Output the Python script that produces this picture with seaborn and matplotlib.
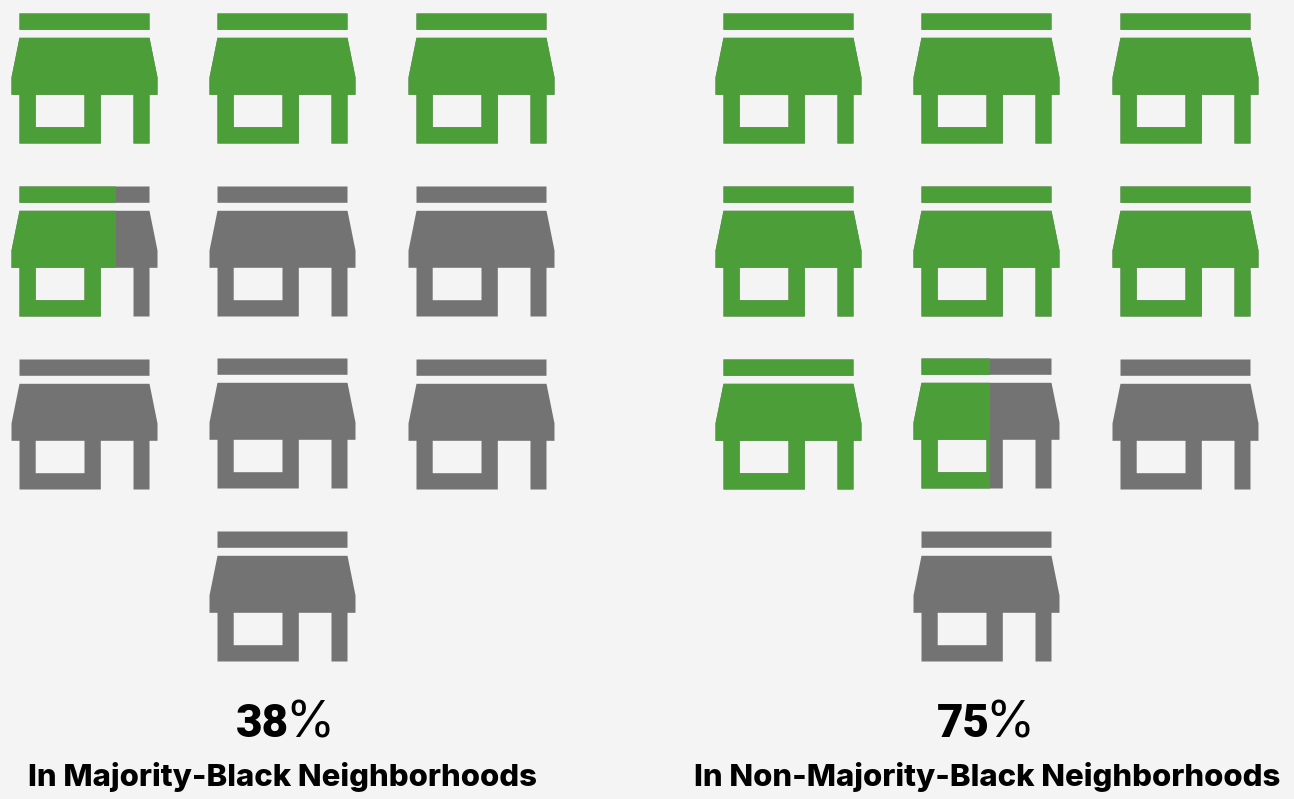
import matplotlib
matplotlib.use("Agg")
import matplotlib.pyplot as plt
import pandas as pd
import seaborn as sns
from matplotlib.markers import MarkerStyle
from matplotlib.patches import Rectangle
from matplotlib.path import Path

# columns / rows of the icon grid, one list per group (pixel scale of the picture)
left_x = [84, 282, 480.5, 84, 282, 481, 84, 282, 481, 282]
right_x = [788, 986, 1184.5, 788, 986, 1185, 788, 986, 1185, 986]
icon_y = [77.5, 77.5, 77.5, 250.5, 250.5, 250.5, 423.5, 422.5, 423.5, 595.5]

# how much of every store is green
left_fill = [1, 1, 1, 0.71, 0, 0, 0, 0, 0, 0]
right_fill = [1, 1, 1, 1, 1, 1, 1, 0.52, 0, 0]

percents = ["38", "75"]
labels = ["In Majority-Black Neighborhoods", "In Non-Majority-Black Neighborhoods"]
label_x = [283, 987]
split_x = [289, 989.5]

GREEN = "#4C9F38"
GREY = "#737373"
BG = "#F4F4F4"
ICON_W = 146

sns.set_theme(style="white", rc={"figure.facecolor": BG, "axes.facecolor": BG})
plt.rcParams["font.family"] = ["Inter", "DejaVu Sans"]

df = pd.DataFrame({
    "x": left_x + right_x,
    "y": icon_y + icon_y,
    "fill": left_fill + right_fill,
})


def store_marker():
    # y goes up here, icon centre is 0,0
    # holes run the other way round so they stay empty
    parts = [
        [(-65, 65), (65, 65), (65, 48.7), (-65, 48.7)],
        [(-65, 40.7), (65, 40.7), (73, 1), (73, -16.3), (65, -16.3), (65, -65), (49, -65),
         (49, -16.3), (16.3, -16.3), (16.3, -65), (-65, -65), (-65, -16.3), (-73, -16.3), (-73, 1)],
        [(-48.8, -16.3), (-48.8, -48.7), (0, -48.7), (0, -16.3)],
    ]
    verts, codes = [], []
    for part in parts:
        verts += part + [part[0]]
        codes += [Path.MOVETO] + [Path.LINETO] * (len(part) - 1) + [Path.CLOSEPOLY]
    return MarkerStyle(Path(verts, codes))


fig, ax = plt.subplots(figsize=(12.94, 7.99), dpi=100)
ax.set_position([0, 0, 1, 1])

store = store_marker()
size = (ICON_W * 72 / 100) ** 2

sns.scatterplot(data=df, x="x", y="y", marker=store, s=size, color=GREY, linewidth=0, ax=ax)
sns.scatterplot(data=df[df["fill"] == 1], x="x", y="y", marker=store, s=size, color=GREEN, linewidth=0, ax=ax)

# partly green stores, cut off at their fill
for _, row in df[(df["fill"] > 0) & (df["fill"] < 1)].iterrows():
    sns.scatterplot(x=[row["x"]], y=[row["y"]], marker=store, s=size, color=GREEN, linewidth=0, ax=ax)
    clip = Rectangle((row["x"] - ICON_W / 2, row["y"] - 80), ICON_W * row["fill"], 160, transform=ax.transData)
    ax.collections[-1].set_clip_path(clip)

ax.set_xlim(0, 1294)
ax.set_ylim(799, 0)
ax.axis("off")

for pct, lab, lx, sx in zip(percents, labels, label_x, split_x):
    ax.text(sx, 737, pct, ha="right", va="baseline", fontsize=33, fontweight="black", family="Roboto", color="black")
    ax.text(sx - 4, 737, "%", ha="left", va="baseline", fontsize=36, fontweight="normal", color="black")
    ax.text(lx, 786, lab, ha="center", va="baseline", fontsize=22.4, fontweight="heavy", color="black")

fig.savefig("out.png", dpi=100, facecolor=BG)
